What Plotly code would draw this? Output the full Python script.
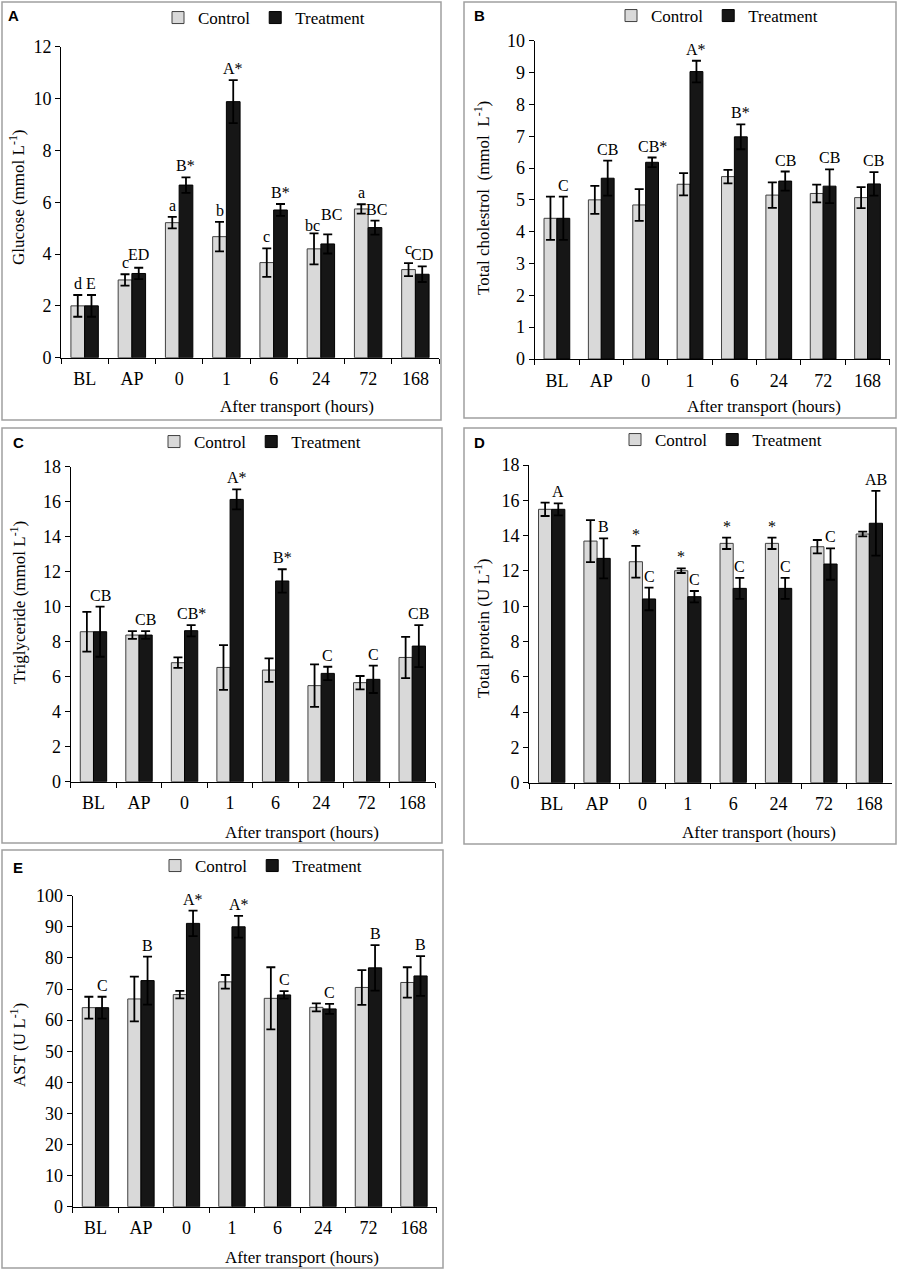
import plotly.graph_objects as go

# time points (x categories), same for every panel
categories = ["BL", "AP", "0", "1", "6", "24", "72", "168"]

# A - glucose
glucose_ctrl = [2.0, 3.0, 5.21, 4.67, 3.67, 4.2, 5.74, 3.4]
glucose_ctrl_err = [0.42, 0.22, 0.22, 0.57, 0.55, 0.6, 0.18, 0.25]
glucose_trt = [2.0, 3.25, 6.66, 9.88, 5.7, 4.39, 5.02, 3.22]
glucose_trt_err = [0.42, 0.22, 0.3, 0.83, 0.23, 0.37, 0.27, 0.3]
glucose_ctrl_lbl = ["d", "c", "a", "b", "c", "bc", "a", "c"]
glucose_trt_lbl = ["E", "ED", "B*", "A*", "B*", "BC", "BC", "CD"]

# B - total cholestrol
chol_ctrl = [4.42, 5.0, 4.84, 5.49, 5.73, 5.15, 5.2, 5.07]
chol_ctrl_err = [0.68, 0.44, 0.5, 0.35, 0.21, 0.4, 0.28, 0.33]
chol_trt = [4.42, 5.68, 6.18, 9.03, 6.98, 5.59, 5.43, 5.5]
chol_trt_err = [0.68, 0.55, 0.15, 0.34, 0.39, 0.3, 0.53, 0.37]
chol_ctrl_lbl = ["", "", "", "", "", "", "", ""]
chol_trt_lbl = ["C", "CB", "CB*", "A*", "B*", "CB", "CB", "CB"]

# C - triglyceride
tg_ctrl = [8.57, 8.38, 6.8, 6.53, 6.38, 5.49, 5.66, 7.1]
tg_ctrl_err = [1.14, 0.22, 0.3, 1.28, 0.67, 1.21, 0.38, 1.18]
tg_trt = [8.57, 8.38, 8.63, 16.13, 11.47, 6.19, 5.85, 7.75]
tg_trt_err = [1.43, 0.22, 0.32, 0.57, 0.67, 0.38, 0.78, 1.2]
tg_ctrl_lbl = ["", "", "", "", "", "", "", ""]
tg_trt_lbl = ["CB", "CB", "CB*", "A*", "B*", "C", "C", "CB"]

# D - total protein
prot_ctrl = [15.49, 13.69, 12.52, 12.01, 13.56, 13.56, 13.37, 14.09]
prot_ctrl_err = [0.38, 1.19, 0.9, 0.13, 0.32, 0.32, 0.38, 0.13]
prot_trt = [15.49, 12.71, 10.41, 10.54, 11.01, 11.01, 12.39, 14.7]
prot_trt_err = [0.34, 1.13, 0.64, 0.32, 0.6, 0.6, 0.89, 1.83]
prot_ctrl_lbl = ["", "", "*", "*", "*", "*", "", ""]
prot_trt_lbl = ["A", "B", "C", "C", "C", "C", "C", "AB"]

# E - AST
ast_ctrl = [64.0, 66.8, 68.2, 72.3, 67.0, 64.1, 70.5, 72.1]
ast_ctrl_err = [3.5, 7.2, 1.2, 2.2, 10.0, 1.3, 5.6, 4.9]
ast_trt = [64.0, 72.7, 91.1, 90.0, 68.1, 63.6, 76.8, 74.2]
ast_trt_err = [3.5, 7.7, 4.1, 3.5, 1.2, 1.6, 7.3, 6.4]
ast_ctrl_lbl = ["", "", "", "", "", "", "", ""]
ast_trt_lbl = ["C", "B", "A*", "A*", "C", "C", "B", "B"]

W, H = 899, 1272
FONT = "Liberation Serif, Times New Roman, serif"
BARGAP = 0.42

# panel layout in pixels: plot area, frame box, texts
# (ctrl_up / trt_up: a few extra pixels for labels that sit higher or lower in the original)
panels = [
    dict(letter="A", ctrl=glucose_ctrl, ce=glucose_ctrl_err, trt=glucose_trt, te=glucose_trt_err,
         cl=glucose_ctrl_lbl, tl=glucose_trt_lbl, ymax=12, dtick=2,
         ytitle="Glucose (mmol L<sup>-1</sup>)",
         plot=(61, 439, 46.7, 357.7), box=(2, 441, 2, 420),
         ytpos=(17, 197), xtpos=(297, 407), legpos=(269, 18), letpos=(13, 15),
         ctrl_up=[0, 0, 0, 0, 0, -4, 0, 3], trt_up=[0, 2, 0, 0, 0, 8, 0, 0],
         ctrl_dx=[0, 0, 0, 0, 0, -2, 0, 0], trt_dx=[0, 0, 0, 0, 0, 4, 2, 0]),
    dict(letter="B", ctrl=chol_ctrl, ce=chol_ctrl_err, trt=chol_trt, te=chol_trt_err,
         cl=chol_ctrl_lbl, tl=chol_trt_lbl, ymax=10, dtick=1,
         ytitle="Total cholestrol  (mmol  L<sup>-1</sup>)",
         plot=(534.7, 889.7, 40.7, 359), box=(464, 896, 2, 418),
         ytpos=(482, 198), xtpos=(764, 407), legpos=(722, 16), letpos=(479, 15)),
    dict(letter="C", ctrl=tg_ctrl, ce=tg_ctrl_err, trt=tg_trt, te=tg_trt_err,
         cl=tg_ctrl_lbl, tl=tg_trt_lbl, ymax=18, dtick=2,
         ytitle="Triglyceride (mmol L<sup>-1</sup>)",
         plot=(70.7, 435, 466.7, 781.7), box=(2, 442, 428, 843),
         ytpos=(18, 603), xtpos=(302, 832), legpos=(265, 442), letpos=(18, 442)),
    dict(letter="D", ctrl=prot_ctrl, ce=prot_ctrl_err, trt=prot_trt, te=prot_trt_err,
         cl=prot_ctrl_lbl, tl=prot_trt_lbl, ymax=18, dtick=2,
         ytitle="Total protein (U L<sup>-1</sup>)",
         plot=(529, 892, 465, 782.7), box=(464, 896, 428, 844),
         ytpos=(482, 628), xtpos=(759, 832), legpos=(726, 440), letpos=(479, 442)),
    dict(letter="E", ctrl=ast_ctrl, ce=ast_ctrl_err, trt=ast_trt, te=ast_trt_err,
         cl=ast_ctrl_lbl, tl=ast_trt_lbl, ymax=100, dtick=10,
         ytitle="AST (U L<sup>-1</sup>)",
         plot=(72.7, 436.7, 895.7, 1206.7), box=(2, 443, 850, 1268),
         ytpos=(18, 1045), xtpos=(302, 1257), legpos=(266, 866), letpos=(18, 867)),
]


def px(x):
    return x / W


def py(y):
    return 1 - y / H


def paper_text(x, y, text, size=17, family=FONT, angle=0):
    return dict(x=px(x), y=py(y), xref="paper", yref="paper", text=text,
                xanchor="center", yanchor="middle", textangle=angle, showarrow=False,
                font=dict(family=family, size=size, color="black"))


fig = go.Figure()
layout = {}
annotations = []
shapes = []

for i, p in enumerate(panels):
    n = "" if i == 0 else str(i + 1)
    xa, ya = "x" + n, "y" + n
    leg = "legend" + n
    x0, x1, y0, y1 = p["plot"]

    fig.add_trace(go.Bar(
        x=categories, y=p["ctrl"], name="Control", xaxis=xa, yaxis=ya, legend=leg,
        marker=dict(color="#d9d9d9", line=dict(color="#404040", width=1)),
        error_y=dict(type="data", array=p["ce"], color="black", thickness=1.8, width=4.5),
    ))
    fig.add_trace(go.Bar(
        x=categories, y=p["trt"], name="Treatment", xaxis=xa, yaxis=ya, legend=leg,
        marker=dict(color="#161616", line=dict(color="#000000", width=1)),
        error_y=dict(type="data", array=p["te"], color="black", thickness=1.8, width=4.5),
    ))

    layout["xaxis" + n] = dict(
        domain=[px(x0), px(x1)], anchor=ya, type="category", range=[-0.5, 7.5],
        showline=True, linecolor="black", linewidth=1, ticks="outside", tickson="boundaries",
        ticklen=5, tickcolor="black", showgrid=False, zeroline=False,
        tickfont=dict(family=FONT, size=18, color="black"), ticklabelstandoff=5,
    )
    layout["yaxis" + n] = dict(
        domain=[py(y1), py(y0)], anchor=xa, range=[0, p["ymax"]], dtick=p["dtick"],
        showline=True, linecolor="black", linewidth=1, ticks="outside", ticklen=5,
        tickcolor="black", showgrid=False, zeroline=False,
        tickfont=dict(family=FONT, size=18, color="black"),
    )
    # legpos is the centre of the two entries; entries start 15px after the legend edge
    layout[leg] = dict(
        x=px(p["legpos"][0] - 111), y=py(p["legpos"][1]), xanchor="left", yanchor="middle",
        orientation="h", font=dict(family=FONT, size=17, color="black"),
        bgcolor="rgba(0,0,0,0)", itemwidth=30, traceorder="normal",
    )

    # letters over bars
    cat_w = (x1 - x0) / len(categories)
    off = cat_w * (1 - BARGAP) / 4
    cu = p.get("ctrl_up", [0] * 8)
    tu = p.get("trt_up", [0] * 8)
    cdx = p.get("ctrl_dx", [0] * 8)
    tdx = p.get("trt_dx", [0] * 8)
    for j in range(len(categories)):
        for lbl, val, err, sh, up in ((p["cl"][j], p["ctrl"][j], p["ce"][j], -off + cdx[j], cu[j]),
                                      (p["tl"][j], p["trt"][j], p["te"][j], off + tdx[j], tu[j])):
            if lbl:
                annotations.append(dict(
                    x=j, y=val + err, xref=xa, yref=ya, text=lbl, showarrow=False,
                    xshift=sh, yshift=1 + up, xanchor="center", yanchor="bottom",
                    font=dict(family=FONT, size=16, color="black"),
                ))

    annotations.append(paper_text(*p["ytpos"], p["ytitle"], angle=-90))
    annotations.append(paper_text(*p["xtpos"], "After transport (hours)"))
    annotations.append(paper_text(*p["letpos"], "<b>" + p["letter"] + "</b>", size=15,
                                  family="Liberation Sans, Arial, sans-serif"))

    bx0, bx1, by0, by1 = p["box"]
    shapes.append(dict(type="rect", xref="paper", yref="paper",
                       x0=px(bx0), x1=px(bx1), y0=py(by1), y1=py(by0),
                       line=dict(color="#a0a0a0", width=1.5)))

fig.update_layout(
    width=W, height=H, margin=dict(l=0, r=0, t=0, b=0, autoexpand=False),
    paper_bgcolor="white", plot_bgcolor="white",
    barmode="group", bargap=BARGAP, bargroupgap=0,
    annotations=annotations, shapes=shapes,
    font=dict(family=FONT, color="black"),
    **layout
)

# no default body margin, so the figure fills the window exactly
fig.write_html("out.html", config={"displayModeBar": False},
               post_script="document.body.style.margin='0';")
